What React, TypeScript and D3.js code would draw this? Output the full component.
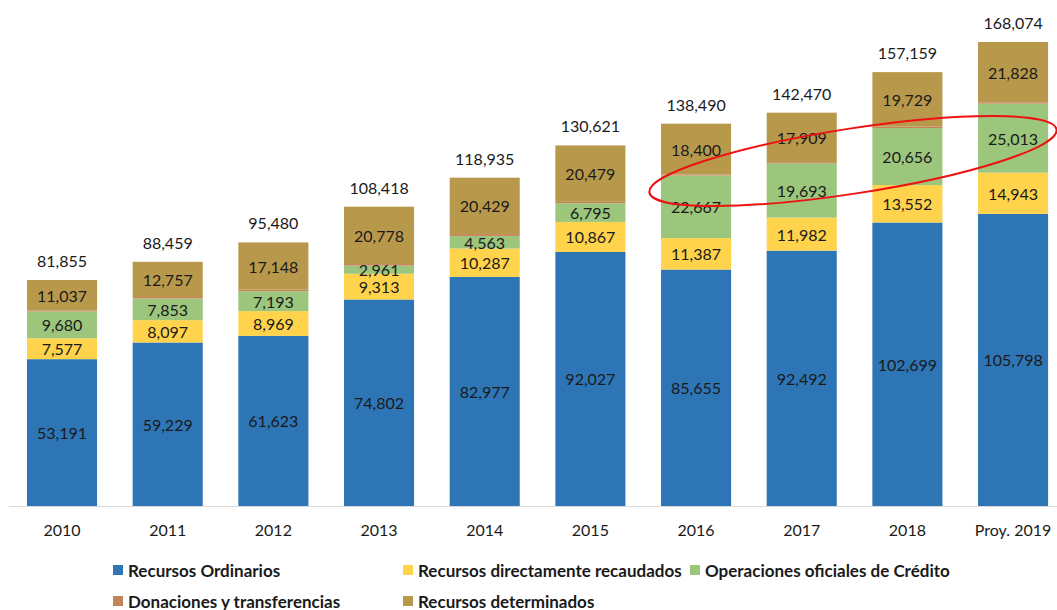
import React from "react";
import * as d3 from "d3";

const categories = ["2010", "2011", "2012", "2013", "2014", "2015", "2016", "2017", "2018", "Proy. 2019"];
const recursosOrdinarios = [53191, 59229, 61623, 74802, 82977, 92027, 85655, 92492, 102699, 105798];
const directamenteRecaudados = [7577, 8097, 8969, 9313, 10287, 10867, 11387, 11982, 13552, 14943];
const operacionesCredito = [9680, 7853, 7193, 2961, 4563, 6795, 22667, 19693, 20656, 25013];
const donaciones = [370, 523, 547, 564, 679, 453, 381, 394, 523, 492];
const recursosDeterminados = [11037, 12757, 17148, 20778, 20429, 20479, 18400, 17909, 19729, 21828];
const totals = [81855, 88459, 95480, 108418, 118935, 130621, 138490, 142470, 157159, 168074];

const seriesNames = [
  "Recursos Ordinarios",
  "Recursos directamente recaudados",
  "Operaciones oficiales de Crédito",
  "Donaciones y transferencias",
  "Recursos determinados",
];
const seriesValues = [recursosOrdinarios, directamenteRecaudados, operacionesCredito, donaciones, recursosDeterminados];
const colors = ["#2E75B6", "#FFD34B", "#9CC67C", "#C4845A", "#B8994C"];
const showLabel = [true, true, true, false, true];

const W = 1057;
const H = 610;
const FONT = "Lato, 'Open Sans', sans-serif";

export default function App() {
  const x = d3
    .scaleBand<string>()
    .domain(categories)
    .range([9.2, 1065.9])
    .paddingInner(0.337)
    .paddingOuter(0.1685);
  const y = d3.scaleLinear().domain([0, d3.max(totals) as number]).range([506, 42]);
  const fmt = d3.format(",");

  const rows = categories.map((c, i) => {
    const r: any = { cat: c };
    seriesNames.forEach((n, s) => (r[n] = seriesValues[s][i]));
    return r;
  });
  const stacked = d3.stack<any>().keys(seriesNames)(rows);

  const legend = [
    { s: 0, x: 113, y: 570 },
    { s: 1, x: 403, y: 570 },
    { s: 2, x: 690, y: 570 },
    { s: 3, x: 113, y: 601 },
    { s: 4, x: 403, y: 601 },
  ];

  return (
    <svg width={W} height={H} style={{ position: "absolute", left: 0, top: 0, fontFamily: FONT }}>
      <rect x={0} y={0} width={W} height={H} fill="#fff" />
      {stacked.map((layer, s) => (
        <g key={s}>
          {layer.map((d, i) => (
            <rect
              key={i}
              x={x(categories[i])}
              y={y(d[1])}
              width={x.bandwidth()}
              height={y(d[0]) - y(d[1])}
              fill={colors[s]}
            />
          ))}
        </g>
      ))}
      {stacked.map((layer, s) =>
        showLabel[s] ? (
          <g key={"l" + s}>
            {layer.map((d, i) => (
              <text
                key={i}
                x={(x(categories[i]) as number) + x.bandwidth() / 2}
                y={(y(d[0]) + y(d[1])) / 2}
                textAnchor="middle"
                dominantBaseline="central"
                fontSize={16}
                fill="#1a1a1a"
              >
                {fmt(seriesValues[s][i])}
              </text>
            ))}
          </g>
        ) : null
      )}
      {totals.map((t, i) => (
        <text
          key={"t" + i}
          x={(x(categories[i]) as number) + x.bandwidth() / 2}
          y={y(t) - 13}
          textAnchor="middle"
          fontSize={16}
          fill="#1a1a1a"
        >
          {fmt(t)}
        </text>
      ))}
      <line x1={9} x2={1057} y1={506.5} y2={506.5} stroke="#d9d9d9" strokeWidth={1} />
      {categories.map((c) => (
        <text
          key={"c" + c}
          x={(x(c) as number) + x.bandwidth() / 2}
          y={536}
          textAnchor="middle"
          fontSize={16}
          fill="#1a1a1a"
        >
          {c}
        </text>
      ))}
      {legend.map((l) => (
        <g key={"lg" + l.s}>
          <rect x={l.x} y={l.y - 5} width={10} height={10} fill={colors[l.s]} />
          <text x={l.x + 15} y={l.y} dominantBaseline="central" fontSize={17} fontWeight="bold" fill="#1a1a1a">
            {seriesNames[l.s]}
          </text>
        </g>
      ))}
      <ellipse
        cx={853}
        cy={161}
        rx={206}
        ry={32.5}
        transform="rotate(-8.8 853 161)"
        fill="none"
        stroke="#ee1111"
        strokeWidth={2}
      />
    </svg>
  );
}
